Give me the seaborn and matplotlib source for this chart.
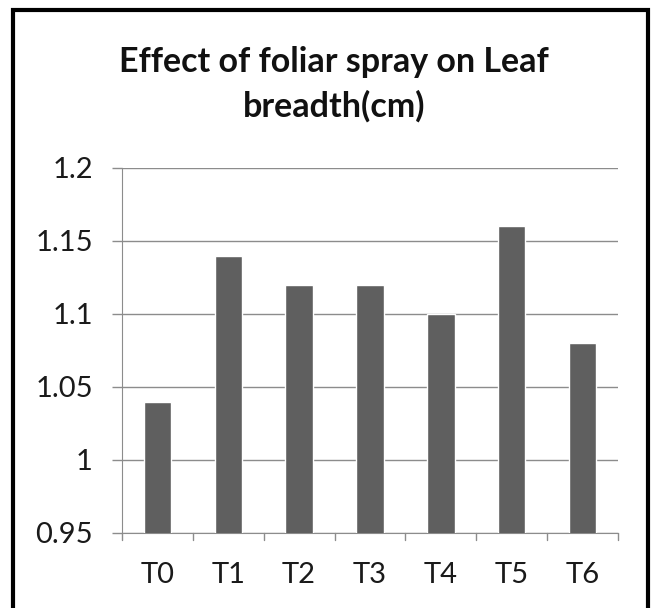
import matplotlib
matplotlib.use("Agg")
import matplotlib.pyplot as plt
import seaborn as sns
import pandas as pd
from matplotlib.patches import Rectangle

# --- data ---
treatments = ["T0", "T1", "T2", "T3", "T4", "T5", "T6"]
breadth = [1.04, 1.14, 1.12, 1.12, 1.10, 1.16, 1.08]
y_ticks = [0.95, 1.0, 1.05, 1.1, 1.15, 1.2]
y_labels = ["0.95", "1", "1.05", "1.1", "1.15", "1.2"]

df = pd.DataFrame({"treatment": treatments, "breadth": breadth})

sns.set_style("white")
plt.rcParams["font.family"] = ["Lato", "DejaVu Sans"]

fig = plt.figure(figsize=(6.53, 6.08), dpi=100)
ax = fig.add_axes([0.187, 0.1234, 0.759, 0.6003])

grid_col = "#8c8c8c"
sns.barplot(data=df, x="treatment", y="breadth", color="#5f5f5f",
            width=0.39, saturation=1, ax=ax, zorder=3)

ax.set_ylim(0.95, 1.2)
ax.set_xlim(-0.5, len(treatments) - 0.5)
ax.set_yticks(y_ticks)
ax.set_yticklabels(y_labels, fontsize=21, color="#1a1a1a")
ax.set_xticks(range(len(treatments)))
ax.set_xticklabels(treatments, fontsize=21, color="#1a1a1a")
ax.tick_params(axis="x", length=0, pad=21)
ax.tick_params(axis="y", length=7, width=1, color=grid_col, pad=14, direction="out", left=True)

# category boundary tick marks on the x axis
for b in [i - 0.5 for i in range(len(treatments) + 1)]:
    ax.plot([b, b], [0.95, 0.95 - 0.0045], color=grid_col, lw=1, clip_on=False, zorder=4)

ax.yaxis.grid(True, color=grid_col, lw=1, zorder=0)
ax.set_axisbelow(True)
ax.set_xlabel("")
ax.set_ylabel("")
sns.despine(ax=ax, top=True, right=True)
ax.spines["left"].set_color(grid_col)
ax.spines["bottom"].set_color(grid_col)

# two-line title, baselines placed like the reference
fig.text(0.511, 0.8816, "Effect of foliar spray on Leaf", ha="center", va="baseline",
         fontsize=24.5, fontweight="bold", color="#111111")
fig.text(0.511, 0.8076, "breadth(cm)", ha="center", va="baseline",
         fontsize=24.5, fontweight="bold", color="#111111")

# outer black frame (bottom edge runs off the image)
fig.patches.append(Rectangle((0.020, -0.02), 0.972, 1.0036, transform=fig.transFigure,
                             fill=False, edgecolor="black", lw=3))

fig.savefig("out.png", dpi=100)
